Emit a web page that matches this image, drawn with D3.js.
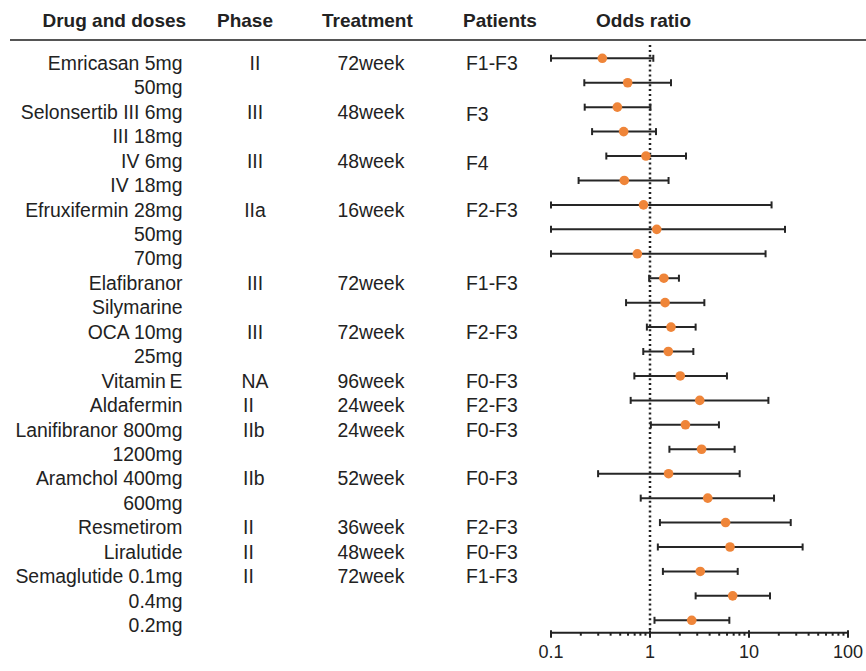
<!DOCTYPE html>
<html>
<head>
<meta charset="utf-8">
<script src="https://cdn.jsdelivr.net/npm/d3@7"></script>
<style>
  html, body { margin: 0; padding: 0; background: #fff; }
  svg { display: block; }
  text { font-family: "Liberation Sans", Arial, Helvetica, sans-serif; fill: #222; }
</style>
</head>
<body>
<script>
// ---- data ----
const drugs = ["Emricasan 5mg","50mg","Selonsertib III 6mg","III 18mg","IV 6mg","IV 18mg",
  "Efruxifermin 28mg","50mg","70mg","Elafibranor","Silymarine","OCA 10mg","25mg",
  "Vitamin\u2009E","Aldafermin","Lanifibranor 800mg","1200mg","Aramchol 400mg","600mg",
  "Resmetirom","Liralutide","Semaglutide 0.1mg","0.4mg","0.2mg"];
const phases = ["II","","III","","III","","IIa","","","III","","III","","NA","II","IIb","","IIb","","II","II","II","",""];
const treatments = ["72week","","48week","","48week","","16week","","","72week","","72week","","96week","24week","24week","","52week","","36week","48week","72week","",""];
const patients = ["F1-F3","","F3","","F4","","F2-F3","","","F1-F3","","F2-F3","","F0-F3","F2-F3","F0-F3","","F0-F3","","F2-F3","F0-F3","F1-F3","",""];
const oddsRatio = [0.33,0.595,0.468,0.542,0.91,0.55,0.86,1.17,0.745,1.38,1.42,1.63,1.53,2.02,3.18,2.28,3.32,1.54,3.83,5.8,6.43,3.22,6.84,2.64];
const ciLower  = [0.1,0.217,0.219,0.26,0.362,0.19,0.1,0.1,0.1,0.98,0.573,0.93,0.855,0.695,0.638,1.02,1.57,0.299,0.806,1.26,1.2,1.35,2.89,1.11];
const ciUpper  = [1.08,1.63,1.01,1.15,2.31,1.54,16.9,23.1,14.7,1.96,3.54,2.89,2.74,5.99,15.7,4.97,7.16,8.05,17.9,26.4,34.8,7.69,16.3,6.33];
const headers = ["Drug and doses","Phase","Treatment","Patients","Odds ratio"];
const tickValues = [0.1, 1, 10, 100];
const refValue = 1;

// ---- layout ----
const W = 866, H = 671;
const svg = d3.select("body").append("svg").attr("width", W).attr("height", H);

const x = d3.scaleLog().domain([0.1, 100]).range([551, 848]);
const y = d3.scalePoint().domain(d3.range(drugs.length)).range([58.3, 620.3]);
const axisY = 632.7;
const textDy = 11.7;

// header
const headerX = [42.5, 217, 322, 463, 596];
svg.selectAll("text.hdr").data(headers).join("text")
  .attr("class", "hdr")
  .attr("x", (d, i) => headerX[i]).attr("y", 27)
  .style("font-size", "19px").style("font-weight", "bold")
  .text(d => d);

svg.append("line").attr("x1", 10).attr("x2", W).attr("y1", 40).attr("y2", 40)
  .attr("stroke", "#555").attr("stroke-width", 2);

// table text
const fs = "19.4px";
svg.selectAll("text.drug").data(drugs).join("text")
  .attr("class", "drug")
  .attr("x", 182.5).attr("y", (d, i) => y(i) + textDy)
  .attr("text-anchor", "end").style("font-size", fs).text(d => d);

svg.selectAll("text.phase").data(phases).join("text")
  .attr("class", "phase")
  .attr("x", (d, i) => i < 14 ? 255 : 243)
  .attr("text-anchor", (d, i) => i < 14 ? "middle" : "start")
  .attr("y", (d, i) => y(i) + textDy)
  .style("font-size", fs).text(d => d);

svg.selectAll("text.treat").data(treatments).join("text")
  .attr("class", "treat")
  .attr("x", 337.5).attr("y", (d, i) => y(i) + textDy)
  .style("font-size", fs).text(d => d);

svg.selectAll("text.pat").data(patients).join("text")
  .attr("class", "pat")
  .attr("x", 466).attr("y", (d, i) => y(i) + textDy + (d === "F3" || d === "F4" ? 2 : 0))
  .style("font-size", fs).text(d => d);

// reference dotted line
svg.append("line")
  .attr("x1", x(refValue)).attr("x2", x(refValue))
  .attr("y1", 45).attr("y2", axisY)
  .attr("stroke", "#222").attr("stroke-width", 2.5)
  .attr("stroke-dasharray", "2,2.9");

// error bars
const rows = d3.range(drugs.length);
const eb = svg.append("g").attr("stroke", "#262626").attr("stroke-width", 2);
eb.selectAll("line.ci").data(rows).join("line")
  .attr("x1", i => x(ciLower[i])).attr("x2", i => x(ciUpper[i]))
  .attr("y1", i => y(i)).attr("y2", i => y(i));
eb.selectAll("line.capl").data(rows).join("line")
  .attr("x1", i => x(ciLower[i])).attr("x2", i => x(ciLower[i]))
  .attr("y1", i => y(i) - 3.5).attr("y2", i => y(i) + 3.5);
eb.selectAll("line.capu").data(rows).join("line")
  .attr("x1", i => x(ciUpper[i])).attr("x2", i => x(ciUpper[i]))
  .attr("y1", i => y(i) - 3.5).attr("y2", i => y(i) + 3.5);

svg.append("g").selectAll("circle").data(rows).join("circle")
  .attr("cx", i => x(oddsRatio[i])).attr("cy", i => y(i)).attr("r", 4.8)
  .attr("fill", "#ef8539");

// x axis with minor ticks
const gAxis = svg.append("g").attr("transform", `translate(0,${axisY})`);
const allTicks = [];
for (let e = -1; e < 2; e++) for (let m = 1; m <= 9; m++) allTicks.push(m * Math.pow(10, e));
allTicks.push(100);
gAxis.append("line").attr("x1", x(0.1)).attr("x2", x(100)).attr("y1", 0).attr("y2", 0)
  .attr("stroke", "#222").attr("stroke-width", 2);
gAxis.selectAll("line.t").data(allTicks).join("line")
  .attr("x1", d => x(d)).attr("x2", d => x(d))
  .attr("y1", d => tickValues.some(t => Math.abs(t - d) < 1e-9) ? -2.5 : 0)
  .attr("y2", d => tickValues.some(t => Math.abs(t - d) < 1e-9) ? 5 : 3)
  .attr("stroke", "#222").attr("stroke-width", 2);
gAxis.selectAll("text.tl").data(tickValues).join("text")
  .attr("x", d => x(d)).attr("y", 25.5)
  .attr("text-anchor", "middle").style("font-size", "18px")
  .text(d => d3.format("~g")(d));
</script>
</body>
</html>
